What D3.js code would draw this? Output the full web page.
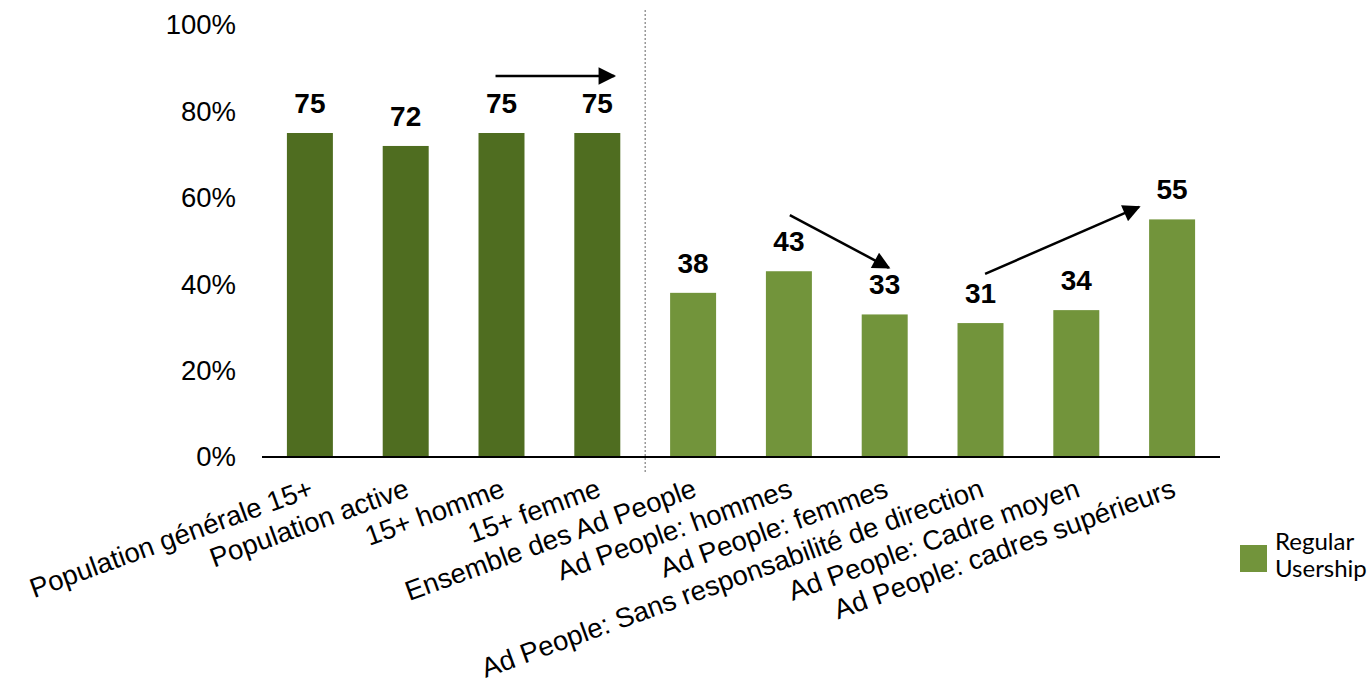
<!DOCTYPE html>
<html>
<head>
<meta charset="utf-8">
<script src="https://cdn.jsdelivr.net/npm/d3@7"></script>
<style>
  html, body { margin: 0; padding: 0; background: #fff; }
  svg { display: block; }
</style>
</head>
<body>
<svg id="chart" width="1372" height="684"></svg>
<script>
// Regular usership by audience segment (%)
const categories = [
  "Population générale 15+",
  "Population active",
  "15+ homme",
  "15+ femme",
  "Ensemble des Ad People",
  "Ad People: hommes",
  "Ad People: femmes",
  "Ad People: Sans responsabilité de direction",
  "Ad People: Cadre moyen",
  "Ad People: cadres supérieurs"
];
const values = [75, 72, 75, 75, 38, 43, 33, 31, 34, 55];
const groups = ["general", "general", "general", "general", "ad", "ad", "ad", "ad", "ad", "ad"];
const yTicks = [0, 20, 40, 60, 80, 100];
const legendLabel = ["Regular", "Usership"];
// Trend arrows: [from category, from value, to category, to value]
const arrows = [
  ["15+ homme", 88.2, "15+ femme", 88.2],
  ["Ad People: hommes", 56.0, "Ad People: femmes", 43.8],
  ["Ad People: Sans responsabilité de direction", 42.4, "Ad People: cadres supérieurs", 57.9]
];
// horizontal offset of each arrow end, as a fraction of the bar width from its centre
const arrowOffsets = [[-0.13, 0.37], [0.02, 0.09], [0.1, -0.72]];

const colors = { general: "#4f6d20", ad: "#72943b" };

const svg = d3.select("#chart");
const margin = { left: 262, right: 152, top: 25, bottom: 227 };
const W = 1372, H = 684;

const x = d3.scaleBand()
  .domain(categories)
  .range([margin.left, W - margin.right])
  .paddingInner(0.52)
  .paddingOuter(0.26);

const y = d3.scaleLinear()
  .domain([0, 100])
  .range([H - margin.bottom, margin.top]);

const font = "'Liberation Sans', Arial, sans-serif";

// Y axis labels (no axis line)
const yAxis = d3.axisLeft(y).tickValues(yTicks).tickFormat(d => d + "%").tickSize(0).tickPadding(26);
const gy = svg.append("g").attr("transform", `translate(${margin.left},0)`).call(yAxis);
gy.select(".domain").remove();
gy.selectAll("text").attr("font-family", font).attr("font-size", 27.5).attr("fill", "#000");

// Separator between the general population and Ad People groups
const sepX = (x("15+ femme") + x.bandwidth() + x("Ensemble des Ad People")) / 2;
svg.append("line")
  .attr("x1", sepX).attr("x2", sepX)
  .attr("y1", 10).attr("y2", H - margin.bottom + 15)
  .attr("stroke", "#888").attr("stroke-width", 1.3).attr("stroke-dasharray", "2,2");

// Bars
svg.append("g").selectAll("rect")
  .data(categories)
  .join("rect")
  .attr("x", d => x(d))
  .attr("y", (d, i) => y(values[i]))
  .attr("width", x.bandwidth())
  .attr("height", (d, i) => y(0) - y(values[i]))
  .attr("fill", (d, i) => colors[groups[i]]);

// Value labels
svg.append("g").selectAll("text")
  .data(categories)
  .join("text")
  .attr("x", d => x(d) + x.bandwidth() / 2)
  .attr("y", (d, i) => y(values[i]) - 20)
  .attr("text-anchor", "middle")
  .attr("font-family", font)
  .attr("font-weight", "bold")
  .attr("font-size", 28)
  .attr("fill", "#000")
  .text((d, i) => values[i]);

// X axis
const xAxis = d3.axisBottom(x).tickSize(0).tickPadding(0);
const gx = svg.append("g").attr("transform", `translate(0,${y(0)})`).call(xAxis);
gx.select(".domain").attr("stroke", "#000").attr("stroke-width", 2)
  .attr("d", `M${margin.left},0H${W - margin.right}`);
gx.selectAll(".tick text")
  .attr("font-family", font)
  .attr("font-size", 27.5)
  .attr("fill", "#000")
  .attr("text-anchor", "end")
  .attr("dy", 0)
  .attr("transform", "translate(5,39) rotate(-20)");

// Arrows
const defs = svg.append("defs");
defs.append("marker")
  .attr("id", "arrowhead")
  .attr("viewBox", "0 0 10 10")
  .attr("refX", 9).attr("refY", 5)
  .attr("markerWidth", 7.5).attr("markerHeight", 7)
  .attr("markerUnits", "strokeWidth")
  .attr("orient", "auto")
  .append("path").attr("d", "M0,0L10,5L0,10Z").attr("fill", "#000");

svg.append("g").selectAll("line")
  .data(arrows)
  .join("line")
  .attr("x1", (a, i) => x(a[0]) + x.bandwidth() * (0.5 + arrowOffsets[i][0]))
  .attr("y1", a => y(a[1]))
  .attr("x2", (a, i) => x(a[2]) + x.bandwidth() * (0.5 + arrowOffsets[i][1]))
  .attr("y2", a => y(a[3]))
  .attr("stroke", "#000")
  .attr("stroke-width", 2.5)
  .attr("marker-end", "url(#arrowhead)");

// Legend
const lg = svg.append("g").attr("transform", "translate(1240,545)");
lg.append("rect").attr("width", 27).attr("height", 27).attr("fill", colors.ad);
lg.append("text")
  .attr("x", 35).attr("y", 5)
  .attr("font-family", "Lato, 'Open Sans', sans-serif")
  .attr("font-size", 24)
  .attr("fill", "#000")
  .selectAll("tspan")
  .data(legendLabel)
  .join("tspan")
  .attr("x", 35)
  .attr("dy", (d, i) => i === 0 ? 0 : 27)
  .text(d => d);
</script>
</body>
</html>
